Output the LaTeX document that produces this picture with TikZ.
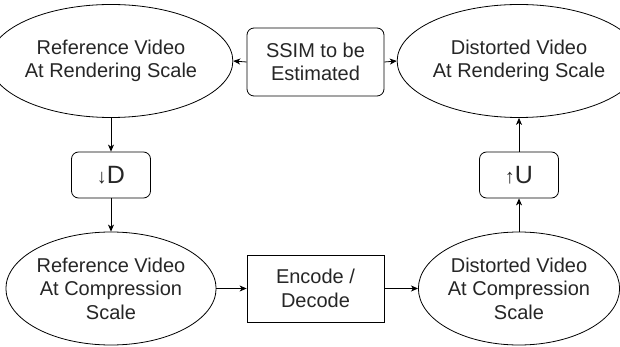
\documentclass[tikz,border=0pt]{standalone}
\usepackage{fontspec}
\setmainfont{Liberation Sans}
\usetikzlibrary{shapes.geometric,arrows.meta}
\begin{document}
\begin{tikzpicture}[x=1pt,y=-1pt,
  every node/.style={inner sep=0pt,align=center,font=\fontsize{20}{23.5}\selectfont,text=black!85},
  ell/.style={draw,ellipse,minimum width=204pt,minimum height=113pt,line width=0.8pt},
  rbox/.style={draw,rounded corners=7pt,line width=0.8pt},
  sbox/.style={draw,line width=0.8pt},
  conn/.style={line width=0.8pt,-{Stealth[length=7pt,width=6pt,inset=2pt]}}]
\useasboundingbox (0,0) rectangle (620,347);
\node[ell] (refR) at (111,61) {Reference Video\\At Rendering Scale};
\node[ell,minimum width=201pt] (disR) at (519,61) {Distorted Video\\At Rendering Scale};
\node[rbox,minimum width=137pt,minimum height=68pt] (ssim) at (315.5,62) {SSIM to be\\Estimated};
\node[rbox,minimum width=79pt,minimum height=46pt,font=\fontsize{25}{28}\selectfont] (down) at (111,175) {{\fontsize{20}{22}\selectfont↓}D};
\node[rbox,minimum width=79pt,minimum height=46pt,font=\fontsize{25}{28}\selectfont] (up) at (519,175) {{\fontsize{20}{22}\selectfont↑}U};
\node[ell] (refC) at (111,288.5) {Reference Video\\At Compression\\Scale};
\node[ell,minimum width=201pt] (disC) at (519,288.5) {Distorted Video\\At Compression\\Scale};
\node[sbox,minimum width=137pt,minimum height=67pt] (enc) at (315.5,288.5) {Encode /\\Decode};
\draw[conn] (ssim.west) -- (refR.east);
\draw[conn] (ssim.east) -- (disR.west);
\draw[conn] (refR.south) -- (down.north);
\draw[conn] (down.south) -- (refC.north);
\draw[conn] (refC.east) -- (enc.west);
\draw[conn] (enc.east) -- (disC.west);
\draw[conn] (disC.north) -- (up.south);
\draw[conn] (up.north) -- (disR.south);
\end{tikzpicture}
\end{document}
